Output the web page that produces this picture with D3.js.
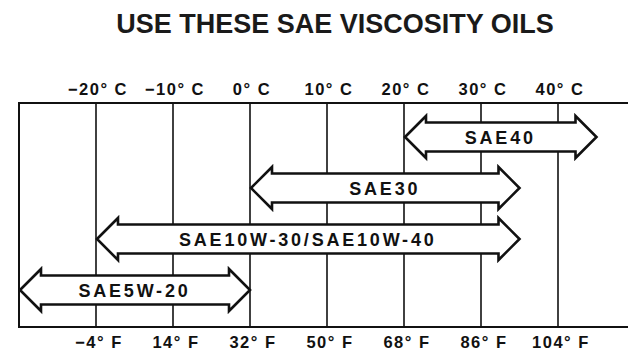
<!DOCTYPE html>
<html>
<head>
<meta charset="utf-8">
<script src="https://cdn.jsdelivr.net/npm/d3@7"></script>
<style>
  html, body { margin: 0; padding: 0; background: #fff; }
  svg { display: block; }
  text { font-family: "Liberation Sans", Arial, sans-serif; font-weight: bold; fill: #111; }
</style>
</head>
<body>
<svg id="chart" width="628" height="352"></svg>
<script>
// Temperature gridlines (°C) and the matching Fahrenheit labels
const celsiusTicks = [-20, -10, 0, 10, 20, 30, 40];
const celsiusLabels = ["−20° C", "−10° C", "0° C", "10° C", "20° C", "30° C", "40° C"];
const fahrenheitLabels = ["−4° F", "14° F", "32° F", "50° F", "68° F", "86° F", "104° F"];

// Oil grades with their usable temperature range (°C)
const oils = ["SAE40", "SAE30", "SAE10W-30/SAE10W-40", "SAE5W-20"];
const rangeLow = [20, 0, -20, -30];
const rangeHigh = [45, 35, 35, 0];

const svg = d3.select("#chart");
const W = 628;
const frameTop = 103, frameBottom = 327, frameLeft = 19;

const x = d3.scaleLinear().domain([-30, 40]).range([frameLeft, 558]);
const y = d3.scalePoint().domain(oils).range([137, 290]);

// Title
svg.append("text")
  .attr("x", 335).attr("y", 33)
  .attr("text-anchor", "middle")
  .style("font-size", "27px")
  .style("fill", "#1a1a1a")
  .text("USE THESE SAE VISCOSITY OILS");

// Frame: top and bottom rules running to the right edge, plus left side
const frame = svg.append("g").attr("stroke", "#111").attr("fill", "none");
frame.append("line").attr("x1", frameLeft - 1).attr("x2", W).attr("y1", frameTop).attr("y2", frameTop).attr("stroke-width", 2.2);
frame.append("line").attr("x1", frameLeft - 1).attr("x2", W).attr("y1", frameBottom).attr("y2", frameBottom).attr("stroke-width", 2.2);
frame.append("line").attr("x1", frameLeft).attr("x2", frameLeft).attr("y1", frameTop).attr("y2", frameBottom).attr("stroke-width", 2);

// Vertical gridlines at each 10 °C
svg.append("g").selectAll("line")
  .data(celsiusTicks)
  .join("line")
  .attr("x1", d => x(d)).attr("x2", d => x(d))
  .attr("y1", frameTop).attr("y2", frameBottom)
  .attr("stroke", "#111").attr("stroke-width", 1.6);

// Celsius labels above, Fahrenheit labels below
svg.append("g").selectAll("text")
  .data(celsiusTicks)
  .join("text")
  .attr("x", d => x(d) + 2).attr("y", 95)
  .attr("text-anchor", "middle")
  .style("font-size", "16.5px")
  .style("letter-spacing", "1.5px")
  .text((d, i) => celsiusLabels[i]);

svg.append("g").selectAll("text")
  .data(celsiusTicks)
  .join("text")
  .attr("x", d => x(d) + 3).attr("y", 348)
  .attr("text-anchor", "middle")
  .style("font-size", "16.5px")
  .style("letter-spacing", "1.5px")
  .text((d, i) => fahrenheitLabels[i]);

// Double-headed arrows for each oil grade
const shaft = 14.5, head = 21, headLen = 21;
function arrowPath(x0, x1, cy) {
  const p = d3.path();
  p.moveTo(x0, cy);
  p.lineTo(x0 + headLen, cy - head);
  p.lineTo(x0 + headLen, cy - shaft);
  p.lineTo(x1 - headLen, cy - shaft);
  p.lineTo(x1 - headLen, cy - head);
  p.lineTo(x1, cy);
  p.lineTo(x1 - headLen, cy + head);
  p.lineTo(x1 - headLen, cy + shaft);
  p.lineTo(x0 + headLen, cy + shaft);
  p.lineTo(x0 + headLen, cy + head);
  p.closePath();
  return p.toString();
}

const arrows = svg.append("g").selectAll("g")
  .data(oils.map((name, i) => ({ name, lo: rangeLow[i], hi: rangeHigh[i] })))
  .join("g");

arrows.append("path")
  .attr("d", d => arrowPath(x(d.lo) + 1, x(d.hi), y(d.name)))
  .attr("fill", "#fff")
  .attr("stroke", "#111")
  .attr("stroke-width", 2.6)
  .attr("stroke-linejoin", "miter");

arrows.append("text")
  .attr("x", d => (x(d.lo) + x(d.hi)) / 2)
  .attr("y", d => y(d.name) + 6.5)
  .attr("text-anchor", "middle")
  .style("font-size", "18px")
  .style("letter-spacing", "2.8px")
  .text(d => d.name);
</script>
</body>
</html>
